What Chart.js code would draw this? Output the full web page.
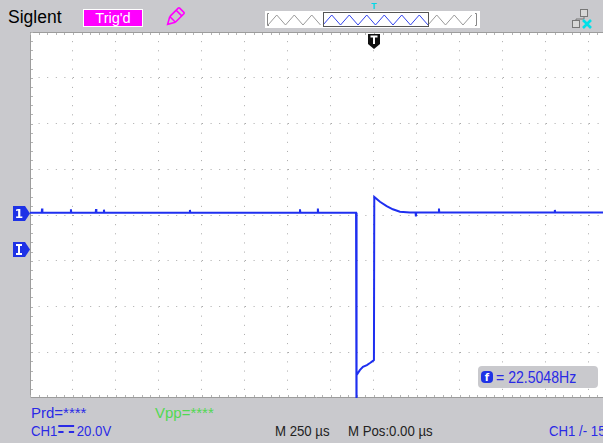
<!DOCTYPE html>
<html>
<head>
<meta charset="utf-8">
<script src="https://cdn.jsdelivr.net/npm/chart.js@4.4.1/dist/chart.umd.min.js"></script>
<style>
    html, body { margin: 0; padding: 0; }
    body {
        width: 603px; height: 443px; position: relative; overflow: hidden;
        background: #c9c9cd;
        font-family: "Liberation Sans", Arial, sans-serif;
    }
    #plot { position: absolute; left: 30px; top: 32px; width: 573px; height: 366px; background: #fff; }
    .t { position: absolute; white-space: nowrap; line-height: 1; }
    .narrow { transform: scaleX(0.88); transform-origin: 0 0; }
    .blue { color: #2a2ae6; }
    #trigd {
        position: absolute; left: 83px; top: 9px; width: 60px; height: 18px; box-sizing: border-box;
        background: #ff00ff; border: 1px solid #fff; color: #fff; font-size: 14.5px;
        text-align: center; line-height: 16px;
    }
    #overview { position: absolute; left: 265px; top: 11px; width: 215px; height: 17px; background: #fff; }
    #freqBox {
        position: absolute; left: 478px; top: 366px; width: 120px; height: 22px;
        background: #c9c9cd; border-radius: 4px;
    }
    .dc { display: inline-block; width: 18px; height: 4px; border-top: 2px solid #2a2ae6;
          border-bottom: 2px dashed #2a2ae6; vertical-align: 3px; margin: 0 3px 0 1px; }
</style>
</head>
<body>
<div id="plot"><canvas id="scope"></canvas></div>

<div class="t" style="left:8px;top:9px;font-size:17.5px;color:#000;">Siglent</div>
<div id="trigd">Trig'd</div>
<svg class="t" style="left:162px;top:6px;" width="24" height="24">
    <g transform="rotate(45 12 12)" fill="none" stroke="#ff00ff" stroke-width="1.6">
        <rect x="8" y="1" width="8" height="13" rx="1"/>
        <path d="M8 14 L12 21 L16 14"/>
        <path d="M8 5 H16"/>
    </g>
</svg>
<svg id="overview"></svg>
<div id="trigTop" class="t" style="top:2px;color:#00d8e8;font-size:9px;font-weight:bold;">T</div>
<svg class="t" style="left:572px;top:9px;" width="22" height="20">
    <rect x="8.5" y="0.5" width="7" height="7" fill="#d8d8d8" stroke="#777"/>
    <rect x="0.5" y="11.5" width="7" height="7" fill="#d8d8d8" stroke="#777"/>
    <path d="M12 7.5 V10 H4 V11.5" fill="none" stroke="#777"/>
    <path d="M11 11 L19 19 M19 11 L11 19" stroke="#00e0e8" stroke-width="2.6"/>
</svg>

<svg id="trigMark" class="t" style="top:34px;" width="12" height="15">
    <path d="M0 0 H12 V10 L6 15 L0 10 Z" fill="#111"/>
    <path d="M2.5 2.5 H9.5 M6 2.5 V10" stroke="#fff" stroke-width="2"/>
</svg>
<svg id="ch1Mark" class="t" style="left:13px;" width="18" height="15">
    <path d="M0 0 H12 L17 7.5 L12 15 H0 Z" fill="#1e32e6"/>
    <text x="6" y="12" fill="#fff" font-size="12" font-weight="bold" text-anchor="middle" font-family="DejaVu Sans">1</text>
</svg>
<svg id="levelMark" class="t" style="left:13px;" width="18" height="15">
    <path d="M0 0 H12 L17 7.5 L12 15 H0 Z" fill="#1e32e6"/>
    <path d="M3 3 H9 M3 12 H9 M6 3 V12" stroke="#fff" stroke-width="2"/>
</svg>

<div id="freqBox">
    <svg class="t" style="left:3px;top:5px;" width="12" height="12">
        <rect x="0" y="0" width="12" height="12" rx="4" fill="#1e32e6"/>
        <text x="6" y="10" fill="#fff" font-size="10" font-weight="bold" text-anchor="middle" font-family="DejaVu Sans">f</text>
    </svg>
    <div class="t blue narrow" style="left:18px;top:4px;font-size:16px;">= 22.5048Hz</div>
</div>

<div class="t blue" style="left:31px;top:405px;font-size:15px;">Prd=****</div>
<div class="t" style="left:155px;top:405px;font-size:15px;color:#52d852;">Vpp=****</div>
<div class="t blue narrow" style="left:31px;top:423px;font-size:15px;">CH1<span class="dc"></span>20.0V</div>
<div class="t narrow" style="left:275px;top:423px;font-size:15px;color:#222;">M 250 µs</div>
<div class="t narrow" style="left:348px;top:423px;font-size:15px;color:#222;">M Pos:0.00 µs</div>
<div class="t blue narrow" style="left:549px;top:423px;font-size:15px;">CH1 /- 15.0V</div>

<script>
// horizontal: 250 us/div, trigger at t = 0; vertical: 20 V/div
const timeUs = [
    -2000, -1932, -1930, -1928, -1764, -1762, -1760, -1618, -1616, -1614,
    -1572, -1570, -1568, -1072, -1070, -1068, -432, -430, -428, -328,
    -326, -324, -104, -102, -100, -82, -64, -41, -23, -6,
    0, 2, 35, 74, 110, 151, 209, 242, 244, 246,
    376, 378, 380, 1050, 1052, 1054, 1332
];
const ch1Volts = [
    1, 1, 2.8, 1, 1, 2.5, 1, 1, 2.6, 1,
    1, 2.3, 1, 1, 2.2, 1, 1, 2.5, 1, 1,
    2.8, 1, 1, -110, -70, -67.8, -66.4, -65.6, -64.7, -63.8,
    -63.4, 7.9, 5.8, 3.9, 2.5, 1.4, 1.1, 1.1, -0.6, 1.1,
    1.1, 2.8, 1.1, 1.1, 2.2, 1.1, 1.1
];
const timePerDiv = 250;
const voltsPerDiv = 20;
const xRange = [-2000, 1332];
const yRange = [-80, 80];
const ch1Ground = 0.5;
const trigLevel = -15;

const plotLeft = 30, plotTop = 32;
const traceBlue = "#1e2ff0";
const dotGray = "#a9a9a9";

// solid frame plus the small minor-division ticks along the edges
const frame = {
    id: "frame",
    beforeDatasetsDraw(chart) {
        const { ctx, chartArea: a, scales: { x, y } } = chart;
        ctx.save();
        ctx.strokeStyle = "#9c9c9c";
        ctx.lineWidth = 1;
        ctx.beginPath();
        ctx.moveTo(a.right, a.top + 0.5); ctx.lineTo(a.left + 0.5, a.top + 0.5);
        ctx.lineTo(a.left + 0.5, a.bottom - 0.5); ctx.lineTo(a.right, a.bottom - 0.5);
        ctx.stroke();
        ctx.strokeStyle = "#b4b4b4";
        ctx.beginPath();
        for (let v = xRange[0]; v <= xRange[1]; v += timePerDiv / 5) {
            const px = Math.round(x.getPixelForValue(v)) + 0.5;
            ctx.moveTo(px, a.top + 1); ctx.lineTo(px, a.top + 3);
            ctx.moveTo(px, a.bottom - 1); ctx.lineTo(px, a.bottom - 3);
        }
        for (let v = yRange[0]; v <= yRange[1]; v += voltsPerDiv / 5) {
            const py = Math.round(y.getPixelForValue(v)) + 0.5;
            ctx.moveTo(a.left + 1, py); ctx.lineTo(a.left + 3, py);
        }
        ctx.stroke();
        ctx.restore();
    }
};

const ctx = document.getElementById("scope").getContext("2d");
const chart = new Chart(ctx, {
    type: "line",
    data: {
        datasets: [{
            label: "CH1",
            data: timeUs.map((t, i) => ({ x: t, y: ch1Volts[i] })),
            borderColor: traceBlue,
            borderWidth: 2,
            pointRadius: 0,
            tension: 0,
            clip: 0
        }]
    },
    options: {
        responsive: true,
        maintainAspectRatio: false,
        animation: false,
        events: [],
        layout: { padding: 0 },
        plugins: { legend: { display: false }, tooltip: { enabled: false } },
        scales: {
            x: {
                type: "linear", min: xRange[0], max: xRange[1],
                ticks: { display: false, stepSize: timePerDiv, includeBounds: false },
                grid: { color: dotGray, drawTicks: false, lineWidth: 1 },
                border: { display: false, dash: [1, 8.15] }
            },
            y: {
                type: "linear", min: yRange[0], max: yRange[1],
                ticks: { display: false, stepSize: voltsPerDiv, includeBounds: false },
                grid: { color: dotGray, drawTicks: false, lineWidth: 1 },
                border: { display: false, dash: [1, 7.6] }
            }
        }
    },
    plugins: [frame]
});

// markers placed from the chart's own scales
const xs = chart.scales.x, ys = chart.scales.y;
const trigX = plotLeft + xs.getPixelForValue(0);
document.getElementById("trigMark").style.left = (trigX - 6) + "px";
document.getElementById("trigTop").style.left = (trigX - 3) + "px";
document.getElementById("ch1Mark").style.top = (plotTop + ys.getPixelForValue(ch1Ground) - 7.5) + "px";
document.getElementById("levelMark").style.top = (plotTop + ys.getPixelForValue(trigLevel) - 7.5) + "px";

// memory overview strip with the zig-zag and the visible window
const ov = document.getElementById("overview");
const ns = "http://www.w3.org/2000/svg";
function zig(x0, x1, color) {
    let pts = [];
    let k = 0;
    for (let px = x0; px <= x1 + 0.01; px += 8.75, k++) pts.push(px + "," + (k % 2 ? 4 : 14));
    const pl = document.createElementNS(ns, "polyline");
    pl.setAttribute("points", pts.join(" "));
    pl.setAttribute("fill", "none");
    pl.setAttribute("stroke", color);
    pl.setAttribute("stroke-width", "1");
    ov.appendChild(pl);
}
zig(3, 58, "#9a9a9a");
zig(58, 163, "#3344ee");
zig(163, 207, "#9a9a9a");
const win = document.createElementNS(ns, "rect");
win.setAttribute("x", "58.5"); win.setAttribute("y", "1.5");
win.setAttribute("width", "105"); win.setAttribute("height", "14");
win.setAttribute("fill", "none"); win.setAttribute("stroke", "#555");
ov.appendChild(win);
const br = document.createElementNS(ns, "path");
br.setAttribute("d", "M4 2.5 H2.5 V14.5 H4 M210 2.5 H211.5 V14.5 H210");
br.setAttribute("fill", "none"); br.setAttribute("stroke", "#888");
ov.appendChild(br);
</script>
</body>
</html>
